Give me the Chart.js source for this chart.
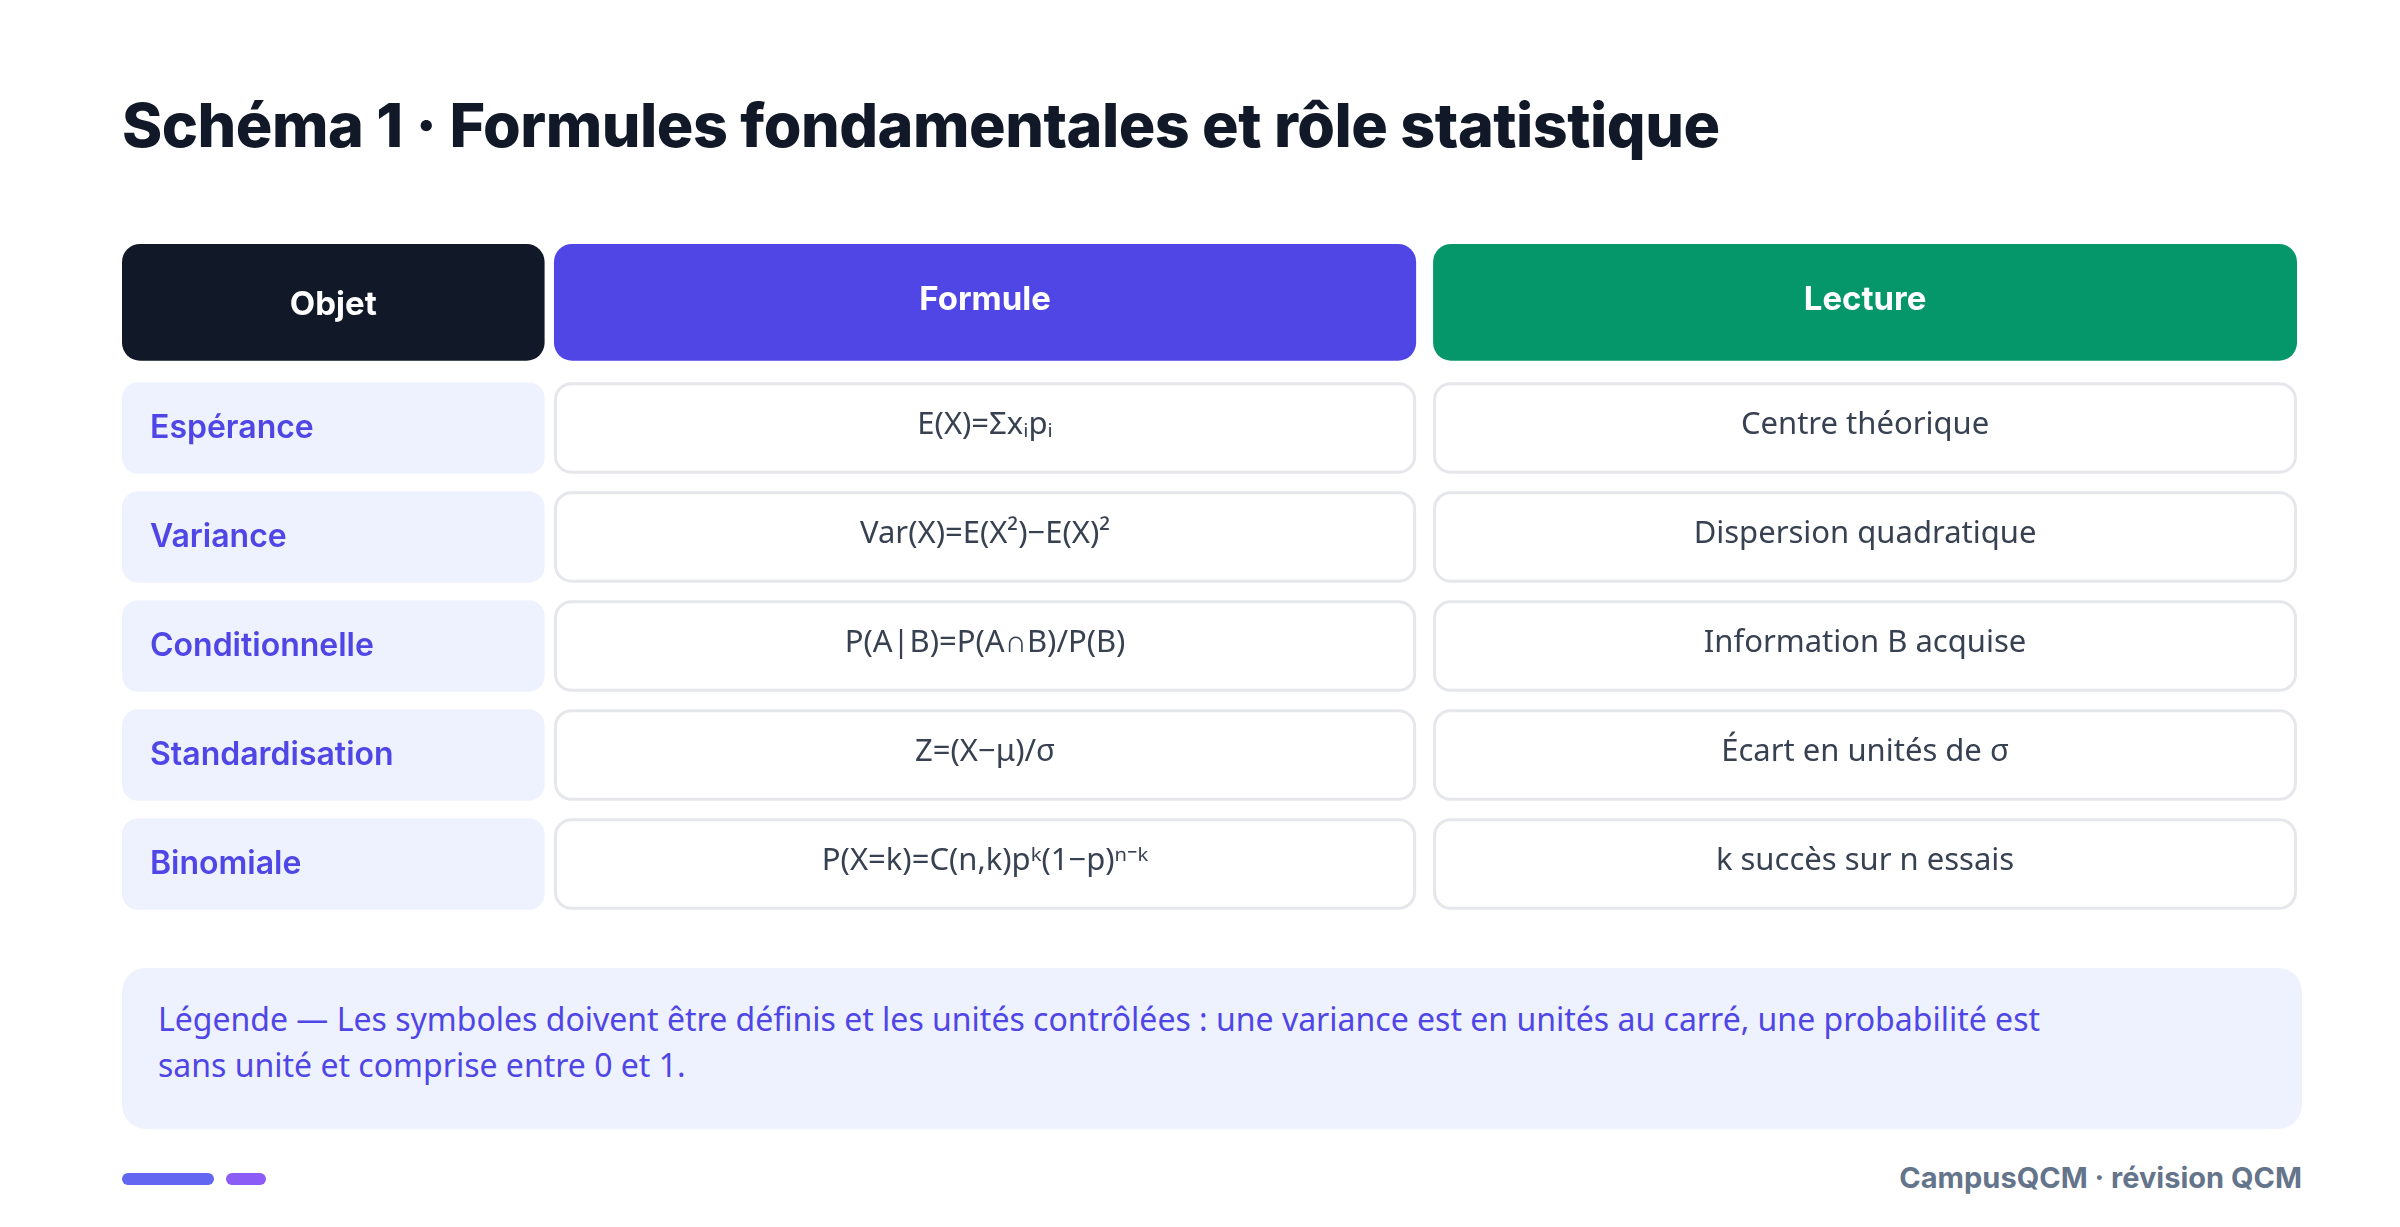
<!DOCTYPE html>
<html lang="fr">
<head>
<meta charset="utf-8">
<script src="https://cdn.jsdelivr.net/npm/chart.js@4.4.1/dist/chart.umd.min.js"></script>
<style>
  html,body{margin:0;padding:0;background:#fff;width:2400px;height:1227px;overflow:hidden;font-family:Inter,"Noto Sans",sans-serif;}
  h1{position:absolute;left:122px;top:88px;margin:0;font-size:61px;font-weight:800;color:#111827;letter-spacing:-0.5px;}
  #wrap{position:absolute;left:122px;top:244px;width:2175px;height:668px;}
  .legend{position:absolute;left:122px;top:968px;width:2180px;height:161px;box-sizing:border-box;background:#eef2ff;border-radius:24px;padding:28px 36px;color:#4f46e5;font-size:32px;line-height:46px;font-family:"Noto Sans",sans-serif;}
  .bar{position:absolute;top:1173px;height:12px;border-radius:6px;}
  .foot{position:absolute;right:98px;top:1160px;font-size:29px;font-weight:700;color:#64748b;}
</style>
</head>
<body>
<h1>Schéma 1 · Formules fondamentales et rôle statistique</h1>
<div id="wrap"><canvas id="chart" width="2175" height="668"></canvas></div>
<div class="legend">Légende — Les symboles doivent être définis et les unités contrôlées : une variance est en unités au carré, une probabilité est<br>sans unité et comprise entre 0 et 1.</div>
<div class="bar" style="left:122px;width:92px;background:#6366f1"></div>
<div class="bar" style="left:226px;width:40px;background:#8b5cf6"></div>
<div class="foot">CampusQCM · révision QCM</div>
<script>
// ================== Data ==================
const headers = ['Objet', 'Formule', 'Lecture'];
const objets = ['Espérance', 'Variance', 'Conditionnelle', 'Standardisation', 'Binomiale'];
const formules = ['E(X)=Σxᵢpᵢ', 'Var(X)=E(X²)−E(X)²', 'P(A|B)=P(A∩B)/P(B)', 'Z=(X−μ)/σ', 'P(X=k)=C(n,k)pᵏ(1−p)ⁿ⁻ᵏ'];
const lectures = ['Centre théorique', 'Dispersion quadratique', 'Information B acquise', 'Écart en unités de σ', 'k succès sur n essais'];

// ================== Layout (scale units) ==================
const colBounds = [[0, 19.43], [19.86, 59.5], [60.28, 100]];
const headColors = ['#111827', '#4f46e5', '#059669'];
const HEAD_H = 1.07, ROW0 = 1.267, ROW_H = 0.84;

function rr(ctx, x, y, w, h, r){
  ctx.beginPath();
  ctx.moveTo(x+r, y); ctx.arcTo(x+w, y, x+w, y+h, r); ctx.arcTo(x+w, y+h, x, y+h, r);
  ctx.arcTo(x, y+h, x, y, r); ctx.arcTo(x, y, x+w, y, r); ctx.closePath();
}

const tablePlugin = {
  id: 'table',
  afterDraw(chart){
    const {ctx, scales:{x, y}} = chart;
    const cell = (c, y0, y1) => {
      const l = x.getPixelForValue(colBounds[c][0]), r = x.getPixelForValue(colBounds[c][1]);
      const t = y.getPixelForValue(y0), b = y.getPixelForValue(y1);
      return {l, t, w: r - l, h: b - t};
    };
    ctx.save();
    ctx.textBaseline = 'middle';
    // header
    headers.forEach((h, c) => {
      const k = cell(c, 0, HEAD_H);
      rr(ctx, k.l, k.t, k.w, k.h, 18); ctx.fillStyle = headColors[c]; ctx.fill();
      ctx.fillStyle = '#fff'; ctx.font = '700 33px Inter, sans-serif'; ctx.textAlign = 'center';
      ctx.fillText(h, k.l + k.w/2, k.t + k.h/2 + (c === 0 ? 3 : -2));
    });
    // rows
    objets.forEach((o, i) => {
      const y0 = ROW0 + i, y1 = y0 + ROW_H;
      let k = cell(0, y0, y1);
      rr(ctx, k.l, k.t, k.w, k.h, 16); ctx.fillStyle = '#eef2ff'; ctx.fill();
      ctx.fillStyle = '#4f46e5'; ctx.font = '600 32px Inter, sans-serif'; ctx.textAlign = 'left';
      ctx.fillText(o, k.l + 28, k.t + k.h/2);
      [formules[i], lectures[i]].forEach((txt, j) => {
        k = cell(j + 1, y0, y1);
        rr(ctx, k.l + 1.5, k.t + 1.5, k.w - 3, k.h - 3, 16);
        ctx.fillStyle = '#fff'; ctx.fill();
        ctx.strokeStyle = '#e5e7eb'; ctx.lineWidth = 3; ctx.stroke();
        ctx.fillStyle = '#374151'; ctx.font = '400 31px "Noto Sans", sans-serif'; ctx.textAlign = 'center';
        ctx.fillText(txt, k.l + k.w/2, k.t + k.h/2 - 3);
      });
    });
    ctx.restore();
  }
};

new Chart(document.getElementById('chart'), {
  type: 'scatter',
  data: { datasets: [{ data: [] }] },
  options: {
    responsive: false, animation: false, devicePixelRatio: 1,
    layout: { padding: 0 },
    plugins: { legend: {display: false}, tooltip: {enabled: false} },
    scales: {
      x: { type: 'linear', min: 0, max: 100, display: false },
      y: { type: 'linear', min: 0, max: ROW0 + 4 + ROW_H + 0.02, reverse: true, display: false }
    }
  },
  plugins: [tablePlugin]
});
</script>
</body>
</html>
